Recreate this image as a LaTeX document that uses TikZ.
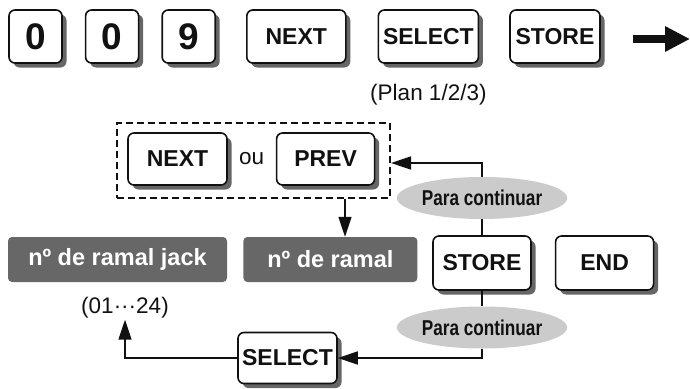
\documentclass[tikz,border=0pt]{standalone}
\usepackage{fontspec}
\setmainfont{Liberation Sans}
\usepackage{graphicx}
\usetikzlibrary{arrows.meta,positioning,calc,shapes.geometric,shadows}
\definecolor{Ink}{HTML}{111111}
\definecolor{Shade}{HTML}{666666}
\definecolor{Slate}{HTML}{676767}
\definecolor{Cloud}{HTML}{CBCBCB}
\tikzset{
  key/.style={draw=Ink,fill=white,line width=1.6pt,rounded corners=6pt,minimum height=53pt,inner sep=2pt,align=center,font=\fontsize{23}{23}\selectfont\bfseries,text=Ink,drop shadow={shadow xshift=4.5pt,shadow yshift=-4.5pt,fill=Shade,opacity=1}},
  digit/.style={key,minimum width=53pt,font=\fontsize{37}{37}\selectfont\bfseries},
  tag/.style={fill=Slate,rounded corners=4pt,minimum height=45pt,inner sep=2pt,font=\fontsize{23.5}{24}\selectfont\bfseries,text=white},
  hint/.style={ellipse,fill=Cloud,minimum width=143pt,minimum height=42pt,inner sep=0pt,font=\fontsize{21.5}{22}\selectfont\bfseries,text=Ink},
  note/.style={inner sep=1pt,font=\fontsize{22.5}{23}\selectfont,text=Ink},
  group/.style={draw=Ink,dash pattern=on 7pt off 4pt,line width=2pt,minimum width=273pt,minimum height=75pt},
  arr/.style={-{Triangle[length=20pt,width=13pt]},draw=Ink,line width=1.6pt},
  link/.style={draw=Ink,line width=1.6pt},
  bigarr/.style={-{Triangle[length=25pt,width=24pt]},draw=Ink,line width=8pt}
}
\begin{document}
\begin{tikzpicture}[x=1pt,y=-1pt,node distance=22pt]
  \useasboundingbox (0,0) rectangle (690,388);
  % code entry row
  \node[digit] (d1) at (35.5,36.5) {0};
  \node[digit,right=of d1] (d2) {0};
  \node[digit,right=of d2] (d3) {9};
  \node[key,minimum width=99pt,right=30pt of d3] (next) {NEXT};
  \node[key,minimum width=100pt,right=31pt of next] (sel) {SELECT};
  \node[key,minimum width=90pt,right=30pt of sel] (store) {STORE};
  \node[note,below=19pt of sel] (plan) {(Plan 1/2/3)};
  \coordinate (go) at (633,39);
  \coordinate (on) at (690,39);
  \draw[bigarr] (go) -- (on);

  % choose the extension
  \node[group] (grp) at (253.5,160.5) {};
  \node[key,minimum width=99pt,minimum height=52pt] (next2) at (177.5,159) {NEXT};
  \node[key,minimum width=98pt,minimum height=52pt,right=48pt of next2] (prev) {PREV};
  \node[note] (ou) at ($(next2)!0.5!(prev)$) {ou};
  \node[tag,minimum width=219pt] (jack) at (117.5,259.5) {nº de ramal jack};
  \node[tag,minimum width=174pt,right=16pt of jack] (ramal) {nº de ramal};
  \node[note] (range) at (125,308) {(01···24)};

  % store, then go on
  \node[hint] (more1) at (482,198) {\scalebox{0.8}[1]{Para continuar}};
  \node[key,minimum width=98pt,minimum height=54pt] (store2) at (482,263) {STORE};
  \node[key,minimum width=98pt,minimum height=54pt,right=23pt of store2] (end) {END};
  \node[hint] (more2) at (482,327.5) {\scalebox{0.8}[1]{Para continuar}};
  \node[key,minimum width=99pt,minimum height=51pt] (sel2) at (287.5,358) {SELECT};

  \draw[arr] ([xshift=91.5pt]grp.south) -- ([xshift=91.5pt]grp.south |- ramal.north);
  \draw[arr] (more1.north) |- ([yshift=-2.5pt]grp.east);
  \draw[link] (more1.south) -- (store2.north);
  \draw[link] (store2.south) -- (more2.north);
  \draw[arr] (more2.south) |- (sel2.east);
  \draw[arr] (sel2.west) -| (range.south);
\end{tikzpicture}
\end{document}
